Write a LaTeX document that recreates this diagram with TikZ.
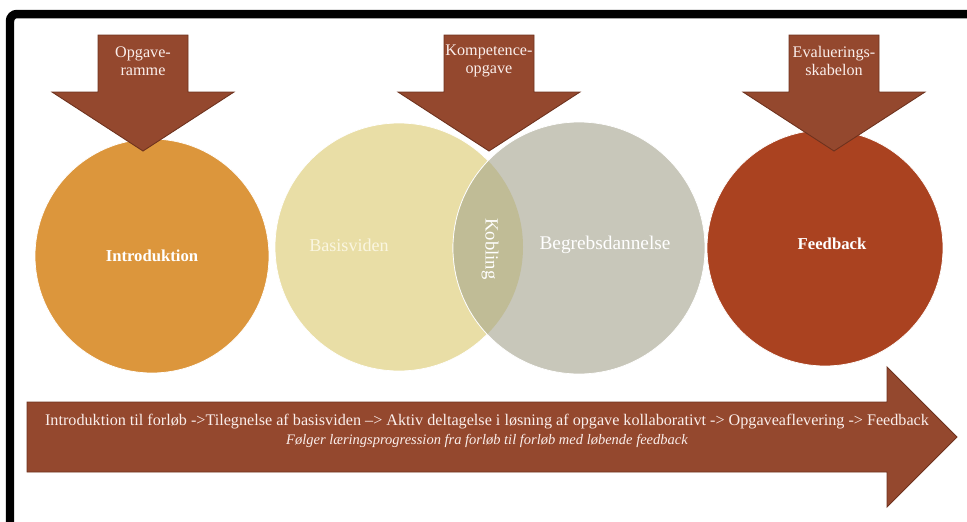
\documentclass[tikz,border=0pt]{standalone}
\usepackage{fontspec}
\setmainfont{Liberation Serif}
\usetikzlibrary{positioning}

\begin{document}
\begin{tikzpicture}[
    x=0.02cm, y=-0.02cm,
    every node/.style={font=\fontsize{9}{10}\selectfont},
    phase/.style={
        circle, inner sep=0pt, draw=white, line width=0.4pt,
        text=white, font=\fontsize{9.5}{11}\selectfont\bfseries
    },
    arrowfill/.style={
        fill={rgb,255:red,148;green,72;blue,46},
        draw={rgb,255:red,110;green,50;blue,30}, line width=0.5pt
    },
    arrowlbl/.style={
        text={rgb,255:red,250;green,238;blue,235},
        font=\fontsize{9.2}{10.5}\selectfont, align=center
    }
]
\useasboundingbox (0,0) rectangle (967,521);

%% ── Frame ──────────────────────────────────────────────────────────
\draw[line width=0.17cm, rounded corners=4pt] (10,14) rectangle (1000,540);

%% ── Circles ────────────────────────────────────────────────────────
\node[phase, minimum size=4.68cm,
      fill={rgb,255:red,220;green,150;blue,60}]
    (intro) at (152,256) {Introduktion};

\node[phase, minimum size=4.96cm,
      fill={rgb,255:red,233;green,222;blue,166}] (basis) at (399,247) {};

\node[phase, minimum size=5.04cm,
      fill={rgb,255:red,200;green,199;blue,186}] (begreb) at (579,248) {};

%% Overlap of the two middle circles
\begin{scope}
    \clip (basis.center) circle (124);
    \filldraw[fill={rgb,255:red,192;green,188;blue,150}, draw=white, line width=0.4pt]
        (begreb.center) circle (126);
\end{scope}

\node[phase, minimum size=4.72cm,
      fill={rgb,255:red,170;green,66;blue,32}] (feedback) at (825,248) {};

%% Labels inside the circles
\node[text=white, font=\fontsize{9.5}{11}\selectfont\bfseries]
    (feedbacklbl) at (832,244) {Feedback};
\node[text={rgb,255:red,250;green,246;blue,225},
      font=\fontsize{10.3}{12}\selectfont] (basislbl) at (349,245) {Basisviden};
\node[text=white, font=\fontsize{11}{12}\selectfont]
    (begreblbl) at (605,245) {Begrebsdannelse};
\node[text=white, rotate=-90, font=\fontsize{10.6}{12}\selectfont]
    (kobling) at (490,249) {Kobling};

%% ── Down arrows ────────────────────────────────────────────────────
\foreach \cx/\lbl/\nm in {143/{Opgave-\\ramme}/opg,
                          489/{Kompetence-\\opgave}/komp,
                          834/{Evaluerings-\\skabelon}/eval} {
    \draw[arrowfill]
        (\cx-45,35) -- (\cx+45,35) -- (\cx+45,92) -- (\cx+91,92)
        -- (\cx,151) -- (\cx-91,92) -- (\cx-45,92) -- cycle;
    \node[arrowlbl] (\nm) at (\cx,61) {\lbl};
}

%% ── Progression arrow ──────────────────────────────────────────────
\draw[arrowfill]
    (27,402) -- (887,402) -- (887,367) -- (957,437)
    -- (887,507) -- (887,472) -- (27,472) -- cycle;

\node[text={rgb,255:red,250;green,238;blue,235},
      font=\fontsize{9.2}{10}\selectfont] (flow) at (487,422)
    {Introduktion til forløb ->Tilegnelse af basisviden –> Aktiv deltagelse i løsning af opgave kollaborativt -> Opgaveaflevering -> Feedback};
\node[text={rgb,255:red,250;green,238;blue,235},
      font=\fontsize{8.25}{9.5}\selectfont\itshape] (note) at (487,441)
    {Følger læringsprogression fra forløb til forløb med løbende feedback};

\end{tikzpicture}
\end{document}
